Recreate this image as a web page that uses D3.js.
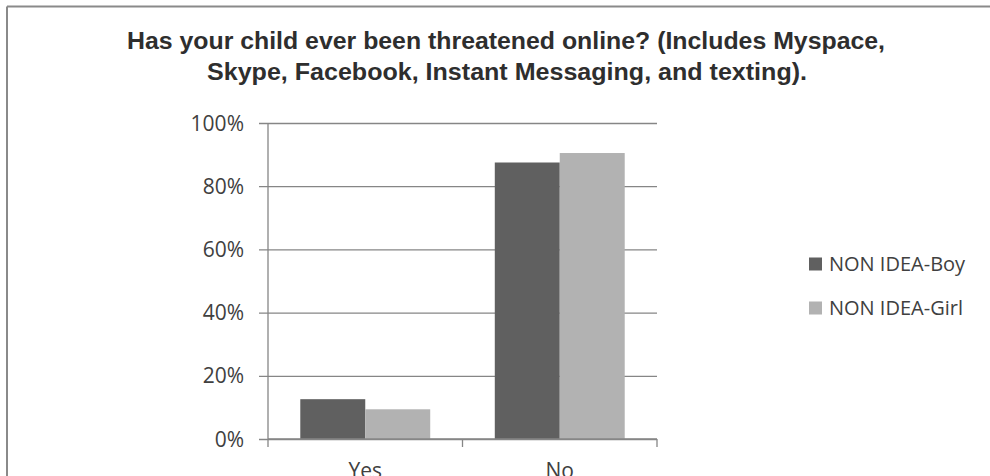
<!DOCTYPE html>
<html>
<head>
<meta charset="utf-8">
<script src="https://cdn.jsdelivr.net/npm/d3@7"></script>
<style>
  html, body { margin: 0; padding: 0; background: #fff; }
  svg { display: block; }
</style>
</head>
<body>
<svg id="chart" width="990" height="476"></svg>
<script>
// Survey answers and the share of each group giving them
const categories = ["Yes", "No"];
const seriesNames = ["NON IDEA-Boy", "NON IDEA-Girl"];
const boyValues = [12.6, 87.5];
const girlValues = [9.4, 90.5];
const yTicks = [0, 20, 40, 60, 80, 100];
const titleLines = [
  "Has your child ever been threatened online? (Includes Myspace,",
  "Skype, Facebook, Instant Messaging, and texting)."
];

const colors = ["#606060", "#b2b2b2"];
const series = [boyValues, girlValues];

const svg = d3.select("#chart");
const W = 990, H = 476;
const plot = { left: 268, right: 657, top: 123, bottom: 439 };

// Chart frame (only top and left edges fall inside the view)
svg.append("line").attr("x1", 7).attr("x2", W).attr("y1", 6.5).attr("y2", 6.5)
  .attr("stroke", "#8a8a8a").attr("stroke-width", 2);
svg.append("line").attr("x1", 7).attr("x2", 7).attr("y1", 6.5).attr("y2", H)
  .attr("stroke", "#8a8a8a").attr("stroke-width", 2);

// Title, two centred lines
const title = svg.append("g").attr("font-family", "Liberation Sans, Arial, sans-serif")
  .attr("font-weight", "bold").attr("font-size", 23).attr("fill", "#2e2e2e");
const titleSpans = [
  { y: 49, x: 127, w: 758 },
  { y: 80, x: 207, w: 600 }
];
titleLines.forEach((t, i) => {
  title.append("text")
    .attr("x", titleSpans[i].x).attr("y", titleSpans[i].y)
    .attr("textLength", titleSpans[i].w).attr("lengthAdjust", "spacingAndGlyphs")
    .text(t);
});

// Scales
const x0 = d3.scaleBand().domain(categories).range([plot.left, plot.right])
  .paddingInner(0.332).paddingOuter(0.166);
const x1 = d3.scaleBand().domain(d3.range(seriesNames.length)).range([0, x0.bandwidth()]).padding(0);
const y = d3.scaleLinear().domain([0, 100]).range([plot.bottom, plot.top]);

const gridColor = "#868686";

// Horizontal gridlines with left tick stubs
const yAxis = d3.axisLeft(y).tickValues(yTicks).tickFormat(d => d + "%")
  .tickSize(-(plot.right - plot.left)).tickPadding(16);
const gy = svg.append("g").attr("transform", `translate(${plot.left},0)`).call(yAxis);
gy.select(".domain").remove();
gy.selectAll(".tick line").attr("stroke", gridColor).attr("stroke-width", 1.3)
  .attr("x1", -9).attr("x2", plot.right - plot.left);
gy.selectAll(".tick text").attr("font-family", "Open Sans, sans-serif")
  .attr("font-size", 21).attr("fill", "#404040").attr("x", -24).attr("dy", "0.34em");

// Bars
categories.forEach((c, ci) => {
  series.forEach((vals, si) => {
    svg.append("rect")
      .attr("x", x0(c) + x1(si))
      .attr("y", y(vals[ci]))
      .attr("width", x1.bandwidth())
      .attr("height", y(0) - y(vals[ci]))
      .attr("fill", colors[si]);
  });
});

// Vertical axis line
svg.append("line").attr("x1", plot.left).attr("x2", plot.left)
  .attr("y1", plot.top).attr("y2", plot.bottom)
  .attr("stroke", gridColor).attr("stroke-width", 1.3);

// Category axis with boundary ticks
const xAxis = d3.axisBottom(x0).tickSize(0).tickPadding(24);
const gx = svg.append("g").attr("transform", `translate(0,${plot.bottom})`).call(xAxis);
gx.select(".domain").attr("stroke", gridColor).attr("stroke-width", 1.3)
  .attr("d", `M${plot.left},0H${plot.right}`);
gx.selectAll(".tick text").attr("font-family", "Open Sans, sans-serif")
  .attr("font-size", 21).attr("fill", "#404040");
const bounds = [plot.left, (plot.left + plot.right) / 2, plot.right];
gx.selectAll(".bound").data(bounds).join("line").attr("class", "bound")
  .attr("x1", d => d).attr("x2", d => d).attr("y1", 0).attr("y2", 8)
  .attr("stroke", gridColor).attr("stroke-width", 1.3);

// Legend
const legend = svg.append("g").attr("transform", "translate(809,0)");
const legendRows = [264, 308];
seriesNames.forEach((name, i) => {
  legend.append("rect").attr("x", 0).attr("y", legendRows[i] - 6.5)
    .attr("width", 13).attr("height", 13).attr("fill", colors[i]);
  legend.append("text").attr("x", 20).attr("y", legendRows[i]).attr("dy", "0.36em")
    .attr("font-family", "Open Sans, sans-serif").attr("font-size", 20)
    .attr("fill", "#404040").text(name);
});
</script>
</body>
</html>
